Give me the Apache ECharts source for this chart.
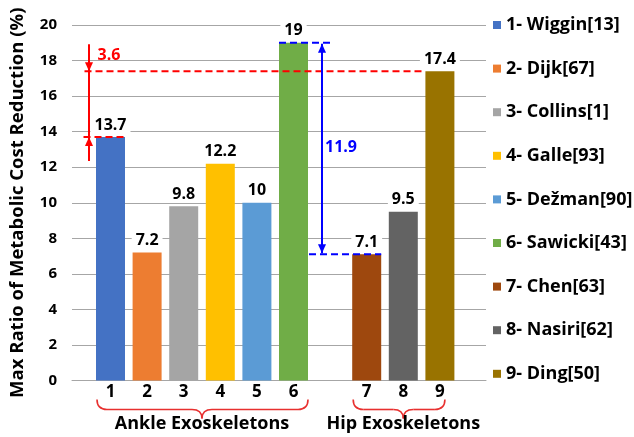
<!DOCTYPE html>
<html>
<head>
<meta charset="utf-8">
<script src="https://cdn.jsdelivr.net/npm/echarts@6/dist/echarts.min.js"></script>
<style>
  html, body { margin: 0; padding: 0; background: #fff; }
  #chart { width: 634px; height: 437px; }
</style>
</head>
<body>
<div id="chart"></div>
<script>
// Category slots along the x axis (empty slot separates ankle and hip devices)
const categories = ['1', '2', '3', '4', '5', '6', '', '7', '8', '9'];
// One study per bar: its slot, legend name, value and colour
const barSlots = ['1', '2', '3', '4', '5', '6', '7', '8', '9'];
const studies = ['1- Wiggin[13]', '2- Dijk[67]', '3- Collins[1]', '4- Galle[93]', '5- Dežman[90]',
                 '6- Sawicki[43]', '7- Chen[63]', '8- Nasiri[62]', '9- Ding[50]'];
const reductions = [13.7, 7.2, 9.8, 12.2, 10, 19, 7.1, 9.5, 17.4];
const barColors = ['#4472C4', '#ED7D31', '#A5A5A5', '#FFC000', '#5B9BD5',
                   '#70AD47', '#9E480E', '#636363', '#997300'];
// Value axis
const yMin = 0, yMax = 20, yStep = 2;
// Device groups under the axis
const groupNames = ['Ankle Exoskeletons', 'Hip Exoskeletons'];
const groupFirst = ['1', '7'];
const groupLast = ['6', '9'];
// Highlighted gaps: [upper study, lower study, label]
const gapUpper = ['9', '6'];
const gapLower = ['1', '7'];
const gapLabels = ['3.6', '11.9'];

const FONT = '"Open Sans", "DejaVu Sans", sans-serif';
const INK = '#000';
const RED = '#FF0000', BLUE = '#0000FF', BRACE = '#E8302F';
const GRID_COLOR = '#A6A6A6';

const chart = echarts.init(document.getElementById('chart'), null, { renderer: 'canvas' });

const series = studies.map((name, i) => ({
  name: name,
  type: 'bar',
  xAxisIndex: 1,
  yAxisIndex: 1,
  barWidth: 29,
  barGap: '-100%',
  itemStyle: { color: barColors[i] },
  label: {
    show: true,
    position: 'top',
    distance: 4,
    color: INK,
    fontFamily: FONT,
    fontWeight: 'bold',
    fontSize: 16,
    backgroundColor: '#fff',
    padding: [0, 4]
  },
  data: categories.map(c => (c === barSlots[i] ? reductions[i] : '-'))
}));

chart.setOption({
  animation: false,
  backgroundColor: '#fff',
  grid: [
    { left: 64, right: 148, top: 25, bottom: 56.5 },
    { left: 92.2, width: 366, top: 25, bottom: 56.5 }
  ],
  xAxis: [
    {
      gridIndex: 0, type: 'value', min: 0, max: 1,
      axisLine: { show: true, lineStyle: { color: GRID_COLOR, width: 1 } },
      axisTick: { show: false }, axisLabel: { show: false }, splitLine: { show: false }
    },
    {
      gridIndex: 1, type: 'category', data: categories,
      axisLine: { show: false }, axisTick: { show: false },
      axisLabel: { margin: 3, color: INK, fontFamily: FONT, fontWeight: 'bold', fontSize: 17 }
    }
  ],
  yAxis: [
    {
      gridIndex: 0, type: 'value', min: yMin, max: yMax, interval: yStep,
      name: 'Max Ratio of Metabolic Cost Reduction (%)',
      nameLocation: 'middle', nameGap: 45,
      nameTextStyle: { color: INK, fontFamily: FONT, fontWeight: 'bold', fontSize: 18.5 },
      axisLine: { show: false }, axisTick: { show: false },
      axisLabel: { margin: 15, color: INK, fontFamily: FONT, fontWeight: 'bold', fontSize: 15 },
      splitLine: { show: true, lineStyle: { color: GRID_COLOR, width: 1 } }
    },
    { gridIndex: 1, type: 'value', min: yMin, max: yMax, interval: yStep, show: false }
  ],
  legend: {
    orient: 'vertical',
    left: 488, top: 10,
    itemWidth: 8, itemHeight: 8, itemGap: 23.6,
    itemStyle: { borderWidth: 0 },
    icon: 'rect',
    data: studies,
    textStyle: { color: INK, fontFamily: FONT, fontWeight: 'bold', fontSize: 18, lineHeight: 20 }
  },
  series: series
});

// Annotation overlays positioned through the bar grid's scales
function px(slot, v) {
  return chart.convertToPixel({ gridIndex: 1 }, [categories.indexOf(slot), v]);
}
function valueOf(slot) { return reductions[barSlots.indexOf(slot)]; }
function xOf(slot) { return px(slot, 0)[0]; }

const HALF = 14.5;
const elements = [];
function dashed(x1, x2, y, color) {
  elements.push({ type: 'line', z: 100, shape: { x1: x1, y1: y, x2: x2, y2: y },
    style: { stroke: color, lineWidth: 2, lineDash: [7, 4] } });
}
function solid(x, y1, y2, color) {
  elements.push({ type: 'line', z: 100, shape: { x1: x, y1: y1, x2: x, y2: y2 },
    style: { stroke: color, lineWidth: 2 } });
}
function arrow(x, tipY, dir, color) { // dir: +1 pointing down, -1 pointing up
  elements.push({ type: 'polygon', z: 101,
    shape: { points: [[x - 4, tipY - dir * 9], [x + 4, tipY - dir * 9], [x, tipY]] },
    style: { fill: color } });
}
function label(text, x, y, color) {
  elements.push({ type: 'text', z: 102, x: x, y: y,
    style: { text: text, fill: color, font: 'bold 16px ' + FONT, textVerticalAlign: 'middle' } });
}
function curve(x1, y1, cx, cy, x2, y2) {
  elements.push({ type: 'bezierCurve', z: 100,
    shape: { x1: x1, y1: y1, x2: x2, y2: y2, cpx1: cx, cpy1: cy },
    style: { stroke: BRACE, lineWidth: 1.6, fill: null } });
}
function hline(x1, x2, y) {
  elements.push({ type: 'line', z: 100, shape: { x1: x1, y1: y, x2: x2, y2: y },
    style: { stroke: BRACE, lineWidth: 1.6 } });
}

// Gap between the two highest devices (red)
{
  const cUp = xOf(gapUpper[0]), cLo = xOf(gapLower[0]);
  const yUp = px(gapUpper[0], valueOf(gapUpper[0]))[1];
  const yLo = px(gapLower[0], valueOf(gapLower[0]))[1];
  const xv = cLo - 21.5;
  dashed(cLo - 26, cUp - HALF, yUp, RED);
  dashed(cLo - 27, cLo + HALF, yLo, RED);
  solid(xv, yUp - 27, yLo + 24, RED);
  arrow(xv, yUp, 1, RED);
  arrow(xv, yLo, -1, RED);
  label(gapLabels[0], cLo - 13, yUp - 16, RED);
}
// Spread between the highest ankle and lowest hip device (blue)
{
  const cUp = xOf(gapUpper[1]), cLo = xOf(gapLower[1]);
  const yUp = px(gapUpper[1], valueOf(gapUpper[1]))[1];
  const yLo = px(gapLower[1], valueOf(gapLower[1]))[1];
  const xv = cUp + 28.5;
  dashed(cUp - HALF, cUp + 38.5, yUp, BLUE);
  dashed(cUp + 15.5, cLo + HALF, yLo, BLUE);
  solid(xv, yUp + 1, yLo - 1, BLUE);
  arrow(xv, yUp + 1, -1, BLUE);
  arrow(xv, yLo - 1, 1, BLUE);
  label(gapLabels[1], xv + 3, (yUp + yLo) / 2 - 1, BLUE);
}
// Curly braces and group captions
{
  const y0 = px('1', 0)[1];
  const yT = y0 + 19, yM = y0 + 29, yB = y0 + 38, r = 10;
  groupNames.forEach((name, g) => {
    const cA = xOf(groupFirst[g]), cB = xOf(groupLast[g]);
    const x1 = cA - HALF + 1, x2 = g === 0 ? cB + HALF : cB + 5;
    const xm = (cA + cB) / 2;
    curve(x1, yT, x1, yM, x1 + r, yM);
    hline(x1 + r, xm - r, yM);
    curve(xm - r, yM, xm, yM, xm, yB);
    curve(xm, yB, xm, yM, xm + r, yM);
    hline(xm + r, x2 - r, yM);
    curve(x2 - r, yM, x2, yM, x2, yT);
    elements.push({ type: 'text', z: 102, x: xm, y: y0 + 43,
      style: { text: name, fill: INK, font: 'bold 18px ' + FONT,
               textAlign: 'center', textVerticalAlign: 'middle' } });
  });
}

chart.setOption({ graphic: { elements: elements } });
</script>
</body>
</html>
